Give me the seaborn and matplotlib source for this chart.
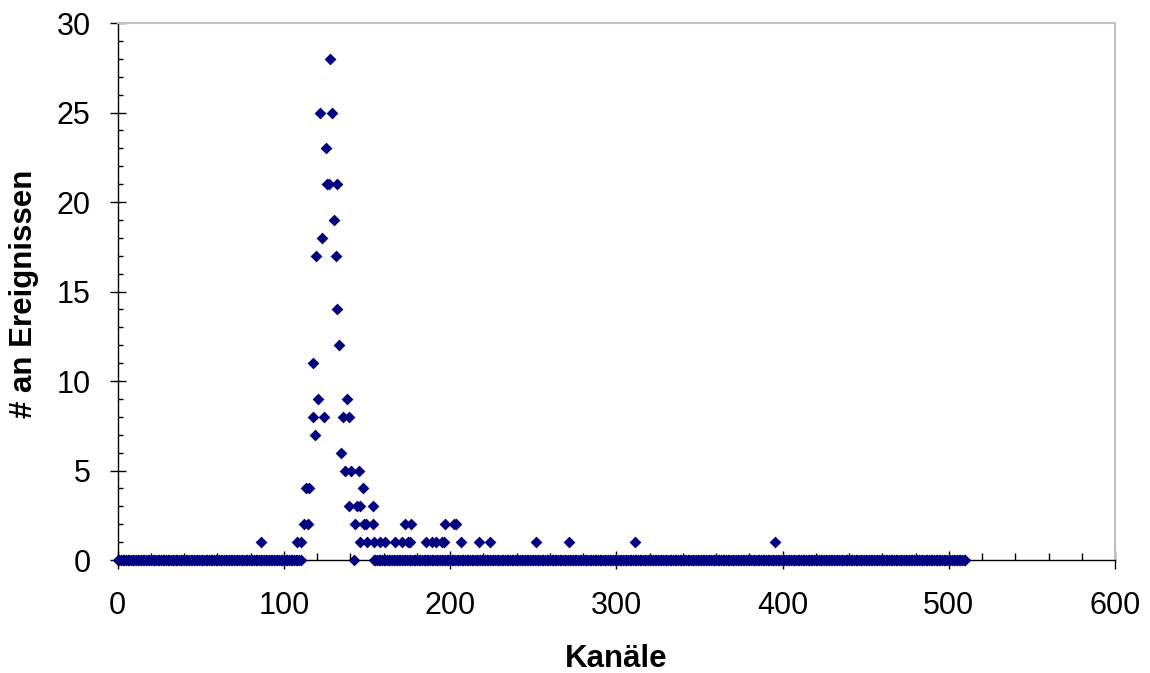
import numpy as np
import pandas as pd
import matplotlib
matplotlib.use("Agg")
import matplotlib.pyplot as plt
from matplotlib.ticker import MultipleLocator
import seaborn as sns

# ---- data ----
peak_kanal = [86.0, 107.8, 110.0, 112.4, 113.2, 114.8, 115.4, 117.4, 117.4, 118.6,
              119.6, 120.8, 122.0, 123.2, 124.4, 125.5, 126.0, 127.0, 127.9, 129.1,
              130.3, 131.2, 132.2, 132.1, 133.4, 134.6, 135.4, 136.6, 138.0, 139.0,
              139.4, 140.6, 142.9, 143.8, 145.4, 145.9, 146.0, 147.4, 148.4, 149.6,
              150.3, 153.4, 153.4, 154.3, 157.7, 161.1, 166.8, 170.8, 172.9, 174.4,
              175.6, 176.6, 185.5, 189.1, 191.8, 195.1, 196.4, 197.1, 202.1, 203.5,
              206.8, 217.1, 224.1, 251.9, 271.5, 311.1, 395.5]
peak_anzahl = [1, 1, 1, 2, 4, 2, 4, 11, 8, 7,
               17, 9, 25, 18, 8, 23, 21, 21, 28, 25,
               19, 17, 21, 14, 12, 6, 8, 5, 9, 3,
               8, 5, 2, 3, 5, 3, 1, 4, 2, 2,
               1, 3, 2, 1, 1, 1, 1, 1, 2, 1,
               1, 2, 1, 1, 1, 1, 1, 2, 2, 2,
               1, 1, 1, 1, 1, 1, 1]
null_kanal = list(range(0, 111)) + [142] + list(range(154, 511))
null_anzahl = [0] * len(null_kanal)

x_ticks = [0, 100, 200, 300, 400, 500, 600]
y_ticks = [0, 5, 10, 15, 20, 25, 30]

df = pd.DataFrame({"Kanal": null_kanal + peak_kanal,
                   "Anzahl": null_anzahl + peak_anzahl})

sns.set_style("white")
plt.rcParams["font.family"] = ["Liberation Sans", "DejaVu Sans"]
plt.rcParams["text.color"] = "black"
plt.rcParams["xtick.color"] = "black"
plt.rcParams["ytick.color"] = "black"
plt.rcParams["xtick.labelcolor"] = "black"
plt.rcParams["ytick.labelcolor"] = "black"

fig = plt.figure(figsize=(11.5, 6.73), dpi=100)
ax = fig.add_axes([0.1023, 0.1679, 0.8673, 0.7979])

sns.scatterplot(data=df, x="Kanal", y="Anzahl", marker="D", color="#000080",
                s=36, linewidth=0, ax=ax, clip_on=False, zorder=5, legend=False)

ax.set_xlim(0, 600)
ax.set_ylim(0, 30)
ax.set_xticks(x_ticks)
ax.set_yticks(y_ticks)
ax.set_xticklabels([str(t) for t in x_ticks])
ax.set_yticklabels([str(t) for t in y_ticks])
ax.xaxis.set_minor_locator(MultipleLocator(20))
ax.yaxis.set_minor_locator(MultipleLocator(1))

ax.tick_params(axis="x", which="major", direction="inout", length=13, width=1,
               pad=16, labelsize=22, color="black", labelcolor="black", bottom=True)
ax.tick_params(axis="x", which="minor", direction="in", length=5, width=1,
               color="black", bottom=True)
ax.tick_params(axis="y", which="major", direction="inout", length=11, width=1,
               pad=14, labelsize=22, color="black", labelcolor="black", left=True)
ax.tick_params(axis="y", which="minor", direction="in", length=3.5, width=1,
               color="black", left=True)

for side in ["left", "bottom"]:
    ax.spines[side].set_color("black")
    ax.spines[side].set_linewidth(1.0)
for side in ["top", "right"]:
    ax.spines[side].set_color("#c0c0c0")
    ax.spines[side].set_linewidth(1.5)

ax.set_xlabel("")
ax.set_ylabel("")

fig.text(616.5 / 1150, 1 - 666.7 / 673, "Kanäle", ha="center", va="baseline",
         fontsize=22.5, fontweight="bold", color="black")
fig.text(32.3 / 1150, 1 - 293.5 / 673, "# an Ereignissen", ha="center",
         va="baseline", rotation=90, rotation_mode="anchor",
         fontsize=22.5, fontweight="bold", color="black")

fig.savefig("out.png", dpi=100, facecolor="white")
